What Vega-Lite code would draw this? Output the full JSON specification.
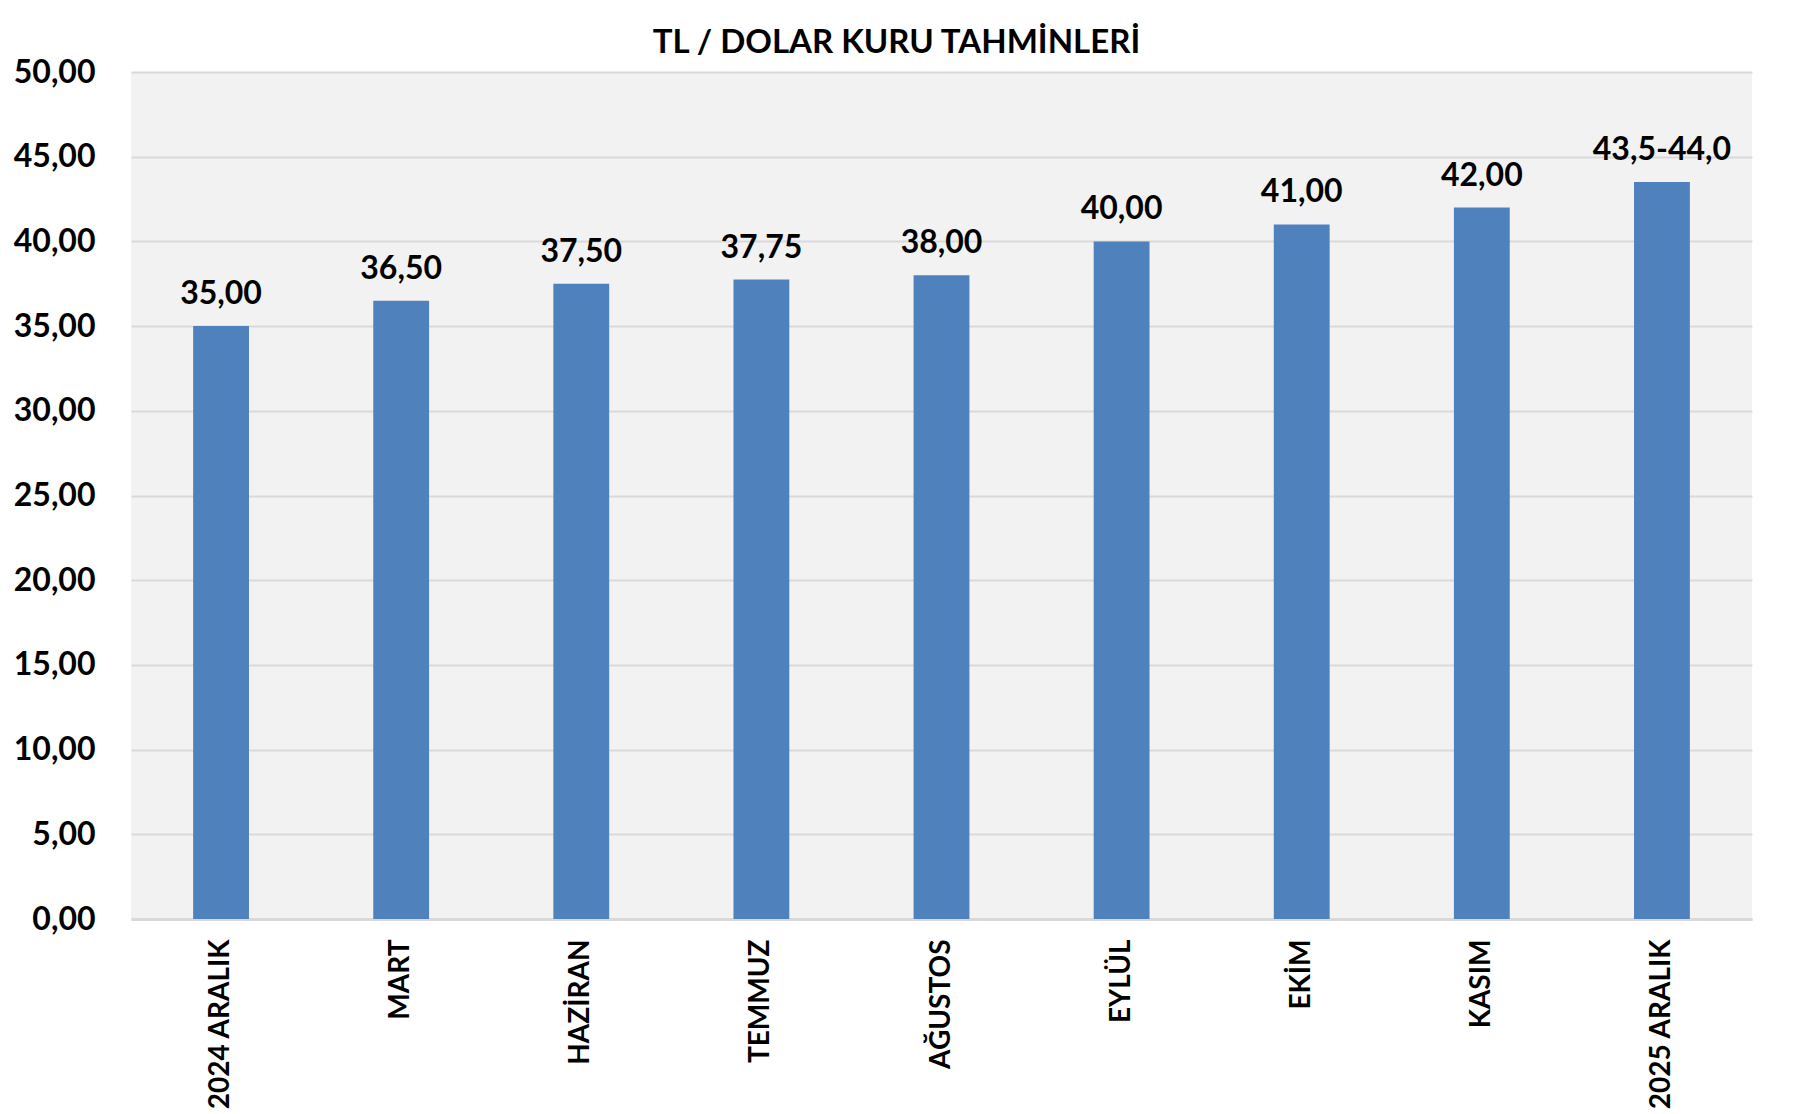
{
  "$schema": "https://vega.github.io/schema/vega-lite/v6.json",
  "autosize": {"type": "none"},
  "width": 1621,
  "height": 847,
  "padding": {"left": 131, "top": 72, "right": 48, "bottom": 195},
  "background": "white",
  "title": {
    "text": "TL / DOLAR KURU TAHMİNLERİ",
    "font": "Lato",
    "fontSize": 33,
    "fontWeight": "bold",
    "color": "#000000",
    "anchor": "middle",
    "dx": -45,
    "dy": 20,
    "offset": 16
  },
  "config": {
    "view": {"fill": "#f2f2f2", "stroke": null},
    "font": "Lato"
  },
  "data": {
    "values": [
      {"donem": "2024 ARALIK", "kur": 35.0, "etiket": "35,00"},
      {"donem": "MART", "kur": 36.5, "etiket": "36,50"},
      {"donem": "HAZİRAN", "kur": 37.5, "etiket": "37,50"},
      {"donem": "TEMMUZ", "kur": 37.75, "etiket": "37,75"},
      {"donem": "AĞUSTOS", "kur": 38.0, "etiket": "38,00"},
      {"donem": "EYLÜL", "kur": 40.0, "etiket": "40,00"},
      {"donem": "EKİM", "kur": 41.0, "etiket": "41,00"},
      {"donem": "KASIM", "kur": 42.0, "etiket": "42,00"},
      {"donem": "2025 ARALIK", "kur": 43.5, "etiket": "43,5-44,0"}
    ]
  },
  "encoding": {
    "x": {
      "field": "donem",
      "type": "nominal",
      "sort": null,
      "scale": {"paddingInner": 0.69, "paddingOuter": 0.345},
      "axis": {
        "title": null,
        "labelAngle": -90,
        "labelAlign": "right",
        "labelBaseline": "middle",
        "labelFont": "Lato",
        "labelFontSize": 28,
        "labelFontWeight": "bold",
        "labelColor": "#000000",
        "labelPadding": 20,
        "ticks": false,
        "domainColor": "#d9d9d9",
        "domainWidth": 3,
        "grid": false
      }
    },
    "y": {
      "field": "kur",
      "type": "quantitative",
      "scale": {"domain": [0, 50], "nice": false},
      "axis": {
        "title": null,
        "values": [0, 5, 10, 15, 20, 25, 30, 35, 40, 45, 50],
        "labelExpr": "replace(format(datum.value, '.2f'), '.', ',')",
        "labelFont": "Lato",
        "labelFontSize": 32,
        "labelFontWeight": "bold",
        "labelColor": "#000000",
        "labelPadding": 36,
        "ticks": false,
        "domain": false,
        "grid": true,
        "gridColor": "#d9d9d9",
        "gridWidth": 2
      }
    }
  },
  "layer": [
    {"mark": {"type": "bar", "color": "#4f81bd"}},
    {
      "mark": {
        "type": "text",
        "font": "Lato",
        "fontSize": 32,
        "fontWeight": "bold",
        "color": "#000000",
        "baseline": "alphabetic",
        "dy": -22
      },
      "encoding": {"text": {"field": "etiket"}}
    }
  ]
}
